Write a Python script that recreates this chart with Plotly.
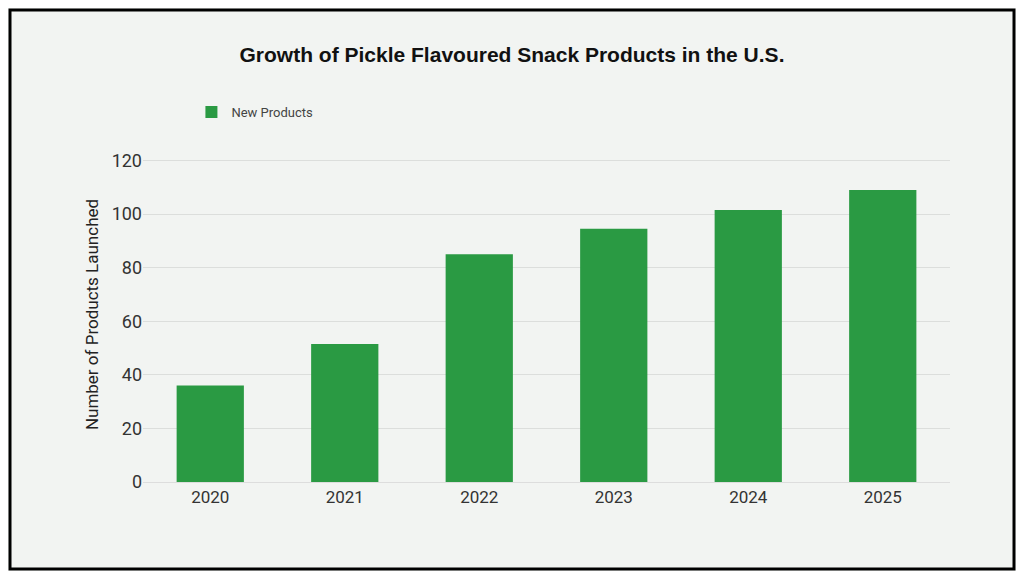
import plotly.graph_objects as go

years = ["2020", "2021", "2022", "2023", "2024", "2025"]
new_products = [36, 51.5, 85, 94.5, 101.5, 109]

W, H = 1008, 563
L, R, T, B = 135, 66, 139, 89
pw, ph = W - L - R, H - T - B

fig = go.Figure()
fig.add_trace(go.Bar(
    x=years, y=new_products, name="New Products",
    marker=dict(color="#2a9a43", line=dict(width=0)),
))

fig.update_layout(
    width=W, height=H,
    margin=dict(l=L, r=R, t=T, b=B),
    paper_bgcolor="#f2f4f2",
    plot_bgcolor="#f2f4f2",
    font=dict(family="Roboto, Arial, sans-serif", color="#333"),
    title=dict(text="<b>Growth of Pickle Flavoured Snack Products in the U.S.</b>",
               x=0.5, xanchor="center", y=1 - 47 / H, yanchor="middle",
               font=dict(size=21, color="#111", family="Liberation Sans, Arial")),
    showlegend=True,
    legend=dict(x=0.06, y=1 + 35 / ph, xanchor="left", yanchor="middle",
                font=dict(size=13, color="#444"), bgcolor="rgba(0,0,0,0)"),
    bargap=0.5,
    shapes=[dict(type="rect", xref="paper", yref="paper",
                 x0=-(L - 2) / pw, x1=1 + (R - 2) / pw,
                 y0=-(B - 2) / ph, y1=1 + (T - 2) / ph,
                 line=dict(color="black", width=3))],
)
fig.update_xaxes(showgrid=False, tickfont=dict(size=17, color="#333"), ticks="",
                 showline=True, linecolor="#dddddd")
fig.update_yaxes(range=[0, 125], tickvals=[0, 20, 40, 60, 80, 100, 120],
                 gridcolor="#dcdedc", zeroline=False,
                 tickfont=dict(size=18, color="#333"), ticksuffix="   ",
                 title=dict(text="Number of Products Launched", font=dict(size=17, color="#222"), standoff=8))

fig.write_html("out.html")
